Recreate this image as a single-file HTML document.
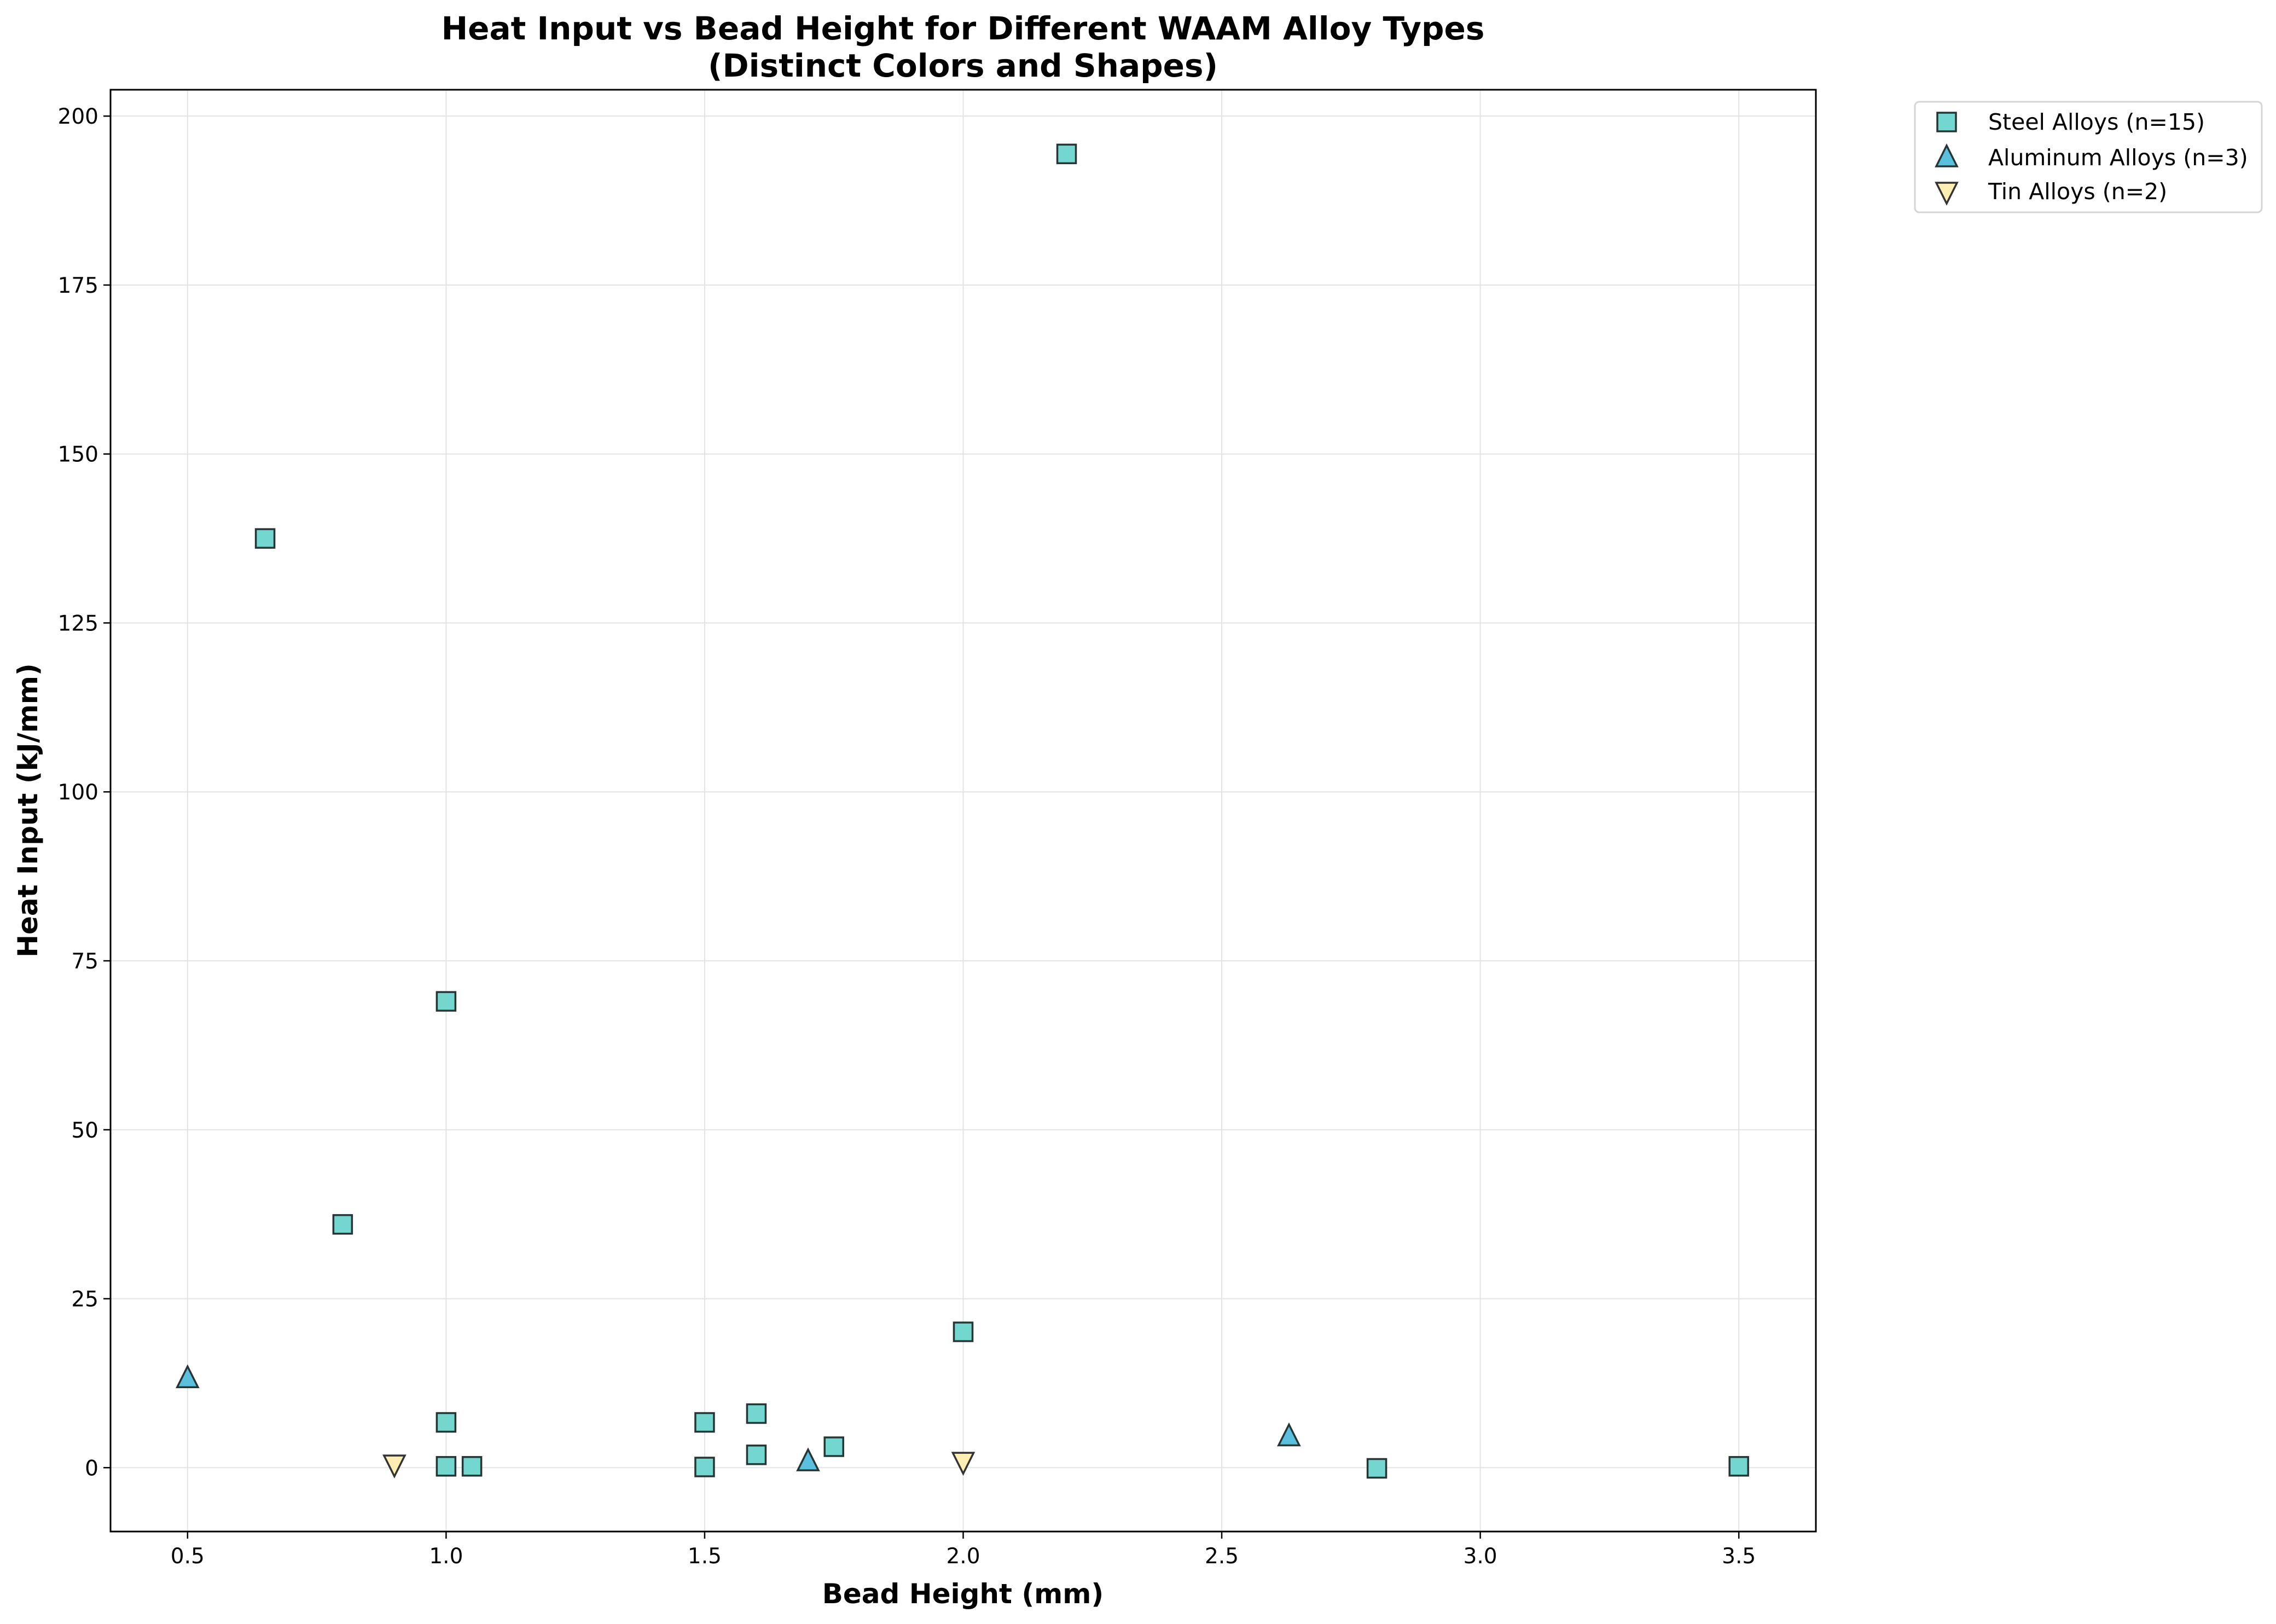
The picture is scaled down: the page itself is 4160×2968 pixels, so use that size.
<!DOCTYPE html>
<html><head><meta charset="utf-8"><style>
html,body{margin:0;padding:0;background:#fff}
svg{display:block;font-family:"DejaVu Sans","Liberation Sans",sans-serif}
</style></head><body>
<svg id="chart" width="4160" height="2968" viewBox="0 0 4160 2968" xmlns="http://www.w3.org/2000/svg">
<rect width="4160" height="2968" fill="#fff"/>
<g id="grid"></g>
<g id="marks"></g>
<rect x="202" y="164" width="3117" height="2635" fill="none" stroke="#000" stroke-width="3"/>
<g id="ticks"></g>
<text x="1760" y="72" text-anchor="middle" font-size="58" font-weight="bold">Heat Input vs Bead Height for Different WAAM Alloy Types</text>
<text x="1760" y="140" text-anchor="middle" font-size="58" font-weight="bold">(Distinct Colors and Shapes)</text>
<text x="1760" y="2930" text-anchor="middle" font-size="50" font-weight="bold">Bead Height (mm)</text>
<text transform="translate(68,1481) rotate(-90)" text-anchor="middle" font-size="50" font-weight="bold">Heat Input (kJ/mm)</text>
<g id="legend">
<rect x="3500" y="186" width="634" height="202" rx="8" fill="#fff" stroke="#d5d5d5" stroke-width="3"/>
</g>
</svg>
<script>
const steelX=[0.65,0.8,1.0,1.0,1.0,1.05,1.5,1.5,1.6,1.6,1.75,2.0,2.2,2.8,3.5];
const steelY=[137.5,36,69,6.7,0.2,0.2,6.7,0.1,8,1.9,3.1,20.1,194.4,-0.1,0.2];
const aluX=[0.5,1.7,2.63];
const aluY=[13.2,0.9,4.6];
const tinX=[0.9,2.0];
const tinY=[0.5,0.9];
const xTicks=[0.5,1.0,1.5,2.0,2.5,3.0,3.5];
const yTicks=[0,25,50,75,100,125,150,175,200];
const legendLabels=["Steel Alloys (n=15)","Aluminum Alloys (n=3)","Tin Alloys (n=2)"];

const NS="http://www.w3.org/2000/svg";
const L=202,R=3319,T=164,B=2799;
const xMin=0.351,xMax=3.649,yMin=-9.45,yMax=203.9;
const sx=v=>L+(v-xMin)/(xMax-xMin)*(R-L);
const sy=v=>B-(v-yMin)/(yMax-yMin)*(B-T);
function mk(tag,attrs,parent){const e=document.createElementNS(NS,tag);for(const k in attrs)e.setAttribute(k,attrs[k]);parent.appendChild(e);return e;}
const grid=document.getElementById('grid'),ticks=document.getElementById('ticks'),marks=document.getElementById('marks'),legend=document.getElementById('legend');
xTicks.forEach(v=>{
  const x=sx(v);
  const g=mk('line',{x1:x,x2:x,y1:T,y2:B,stroke:'#e3e3e3','stroke-width':2},grid);
  
  
  const t=mk('line',{x1:x,x2:x,y1:B,y2:B+13,stroke:'#000','stroke-width':2.5},ticks);
  
  
  const l=mk('text',{x:x,y:B+58,'text-anchor':'middle','font-size':39},ticks);
  l.textContent=v.toFixed(1);
  
  
});
yTicks.forEach(v=>{
  const y=sy(v);
  const g=mk('line',{x1:L,x2:R,y1:y,y2:y,stroke:'#e3e3e3','stroke-width':2},grid);
  
  
  const t=mk('line',{x1:L-13,x2:L,y1:y,y2:y,stroke:'#000','stroke-width':2.5},ticks);
  
  
  const l=mk('text',{x:L-22,y:y+14,'text-anchor':'end','font-size':39},ticks);
  l.textContent=String(v);
  
  
});
const S=17;
function square(x,y,p){return mk('rect',{x:x-S,y:y-S,width:2*S,height:2*S,fill:'#74d7cf',stroke:'#263535','stroke-width':3.5},p);}
function up(x,y,p){const h=20;return mk('polygon',{points:`${x},${y-h*1.1} ${x-h*0.95},${y+h*0.8} ${x+h*0.95},${y+h*0.8}`,fill:'#5bc0de',stroke:'#263535','stroke-width':3.5},p);}
function down(x,y,p){const h=20;return mk('polygon',{points:`${x},${y+h*1.1} ${x-h*0.95},${y-h*0.8} ${x+h*0.95},${y-h*0.8}`,fill:'#ffeeb3',stroke:'#333','stroke-width':3.5},p);}
steelX.forEach((v,i)=>{const e=square(sx(v),sy(steelY[i]),marks);
  
  });
aluX.forEach((v,i)=>{const e=up(sx(v),sy(aluY[i]),marks);
  
  });
tinX.forEach((v,i)=>{const e=down(sx(v),sy(tinY[i]),marks);
  
  });
const ly=[223,288,350],fns=[square,up,down];
legendLabels.forEach((lab,i)=>{
  const m=fns[i](3558,ly[i],legend);
  
  
  const t=mk('text',{x:3634,y:ly[i]+14,'font-size':41},legend);
  t.textContent=lab;
  
  
});
</script>
</body></html>
